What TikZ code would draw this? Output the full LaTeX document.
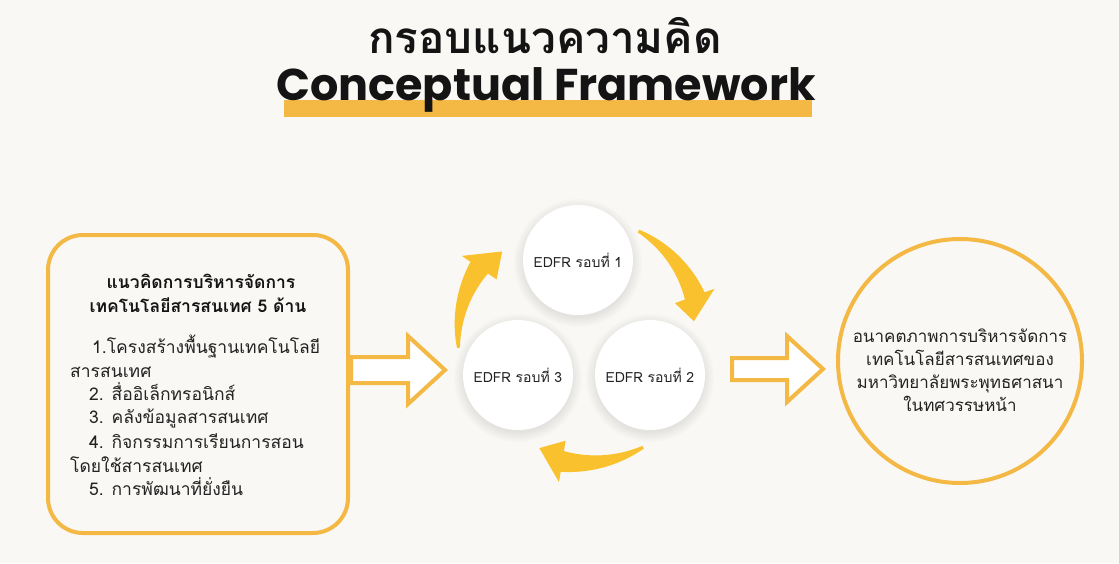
\documentclass[tikz,border=0pt]{standalone}
\usepackage{fontspec}
\setmainfont{Liberation Sans}
\newfontfamily\thaif[Script=Thai]{Loma}
\newfontfamily\popf{Poppins}
\definecolor{bg}{HTML}{F9F8F5}
\definecolor{ol}{HTML}{F4B844}
\definecolor{ay}{HTML}{FAC12E}
\definecolor{ink}{HTML}{141414}
\definecolor{txt}{HTML}{222222}
\newcommand\cyclearrow[4]{% #1=R #2=a0 #3=ah #4=a1
  \fill[ay] plot[domain=0:1, samples=30, variable=\t] ({#2+(#3-#2)*\t}:{#1+1.5+9*\t})
    -- ({#3}:{#1+21}) -- ({#4}:{#1-7}) -- ({#3}:{#1-21})
    -- plot[domain=0:1, samples=30, variable=\t] ({#3-(#3-#2)*\t}:{#1-10.5+9*\t}) -- cycle;}
\newcommand\softshadow[1]{%
  \foreach \rr in {55,56.5,...,64}{\fill[black, opacity=0.012] ([yshift=-3pt]#1) circle (\rr);}}
\tikzset{
  frame/.style={draw=ol, line width=4, fill=bg},
  hollowarrow/.style={draw=ol, line width=4, fill=white, line join=miter},
  roundnode/.style={circle, fill=white, minimum size=110, inner sep=0,
    font=\thaif\fontsize{14}{17}\selectfont, text=txt},
  body/.style={anchor=base west, inner sep=0, font=\thaif\fontsize{17.5}{20}\selectfont, text=txt},
  boxhead/.style={anchor=base, inner sep=0, font=\thaif\bfseries\fontsize{17.5}{20}\selectfont, text=ink},
  outtext/.style={anchor=base, inner sep=0, font=\thaif\fontsize{17}{20}\selectfont, text=txt}
}
\begin{document}
\begin{tikzpicture}[x=1pt, y=-1pt]
\fill[bg] (0,0) rectangle (1119,563);
\useasboundingbox (0,0) rectangle (1119,563);

% title
\fill[ol] (284,100) rectangle (812,117);
\node[anchor=base, inner sep=0, font=\thaif\bfseries\fontsize{44}{44}\selectfont, text=ink] (tth) at (545,53) {กรอบแนวความคิด};
\node[anchor=base, inner sep=0, font=\popf\bfseries\fontsize{44.5}{44.5}\selectfont, text=ink] (ten) at (546,100) {Conceptual Framework};

% left box
\node[frame, rounded corners=35, minimum width=300, minimum height=298] (lbox) at (198,384) {};
\node[boxhead] (h1) at (201,288) {แนวคิดการบริหารจัดการ};
\node[boxhead] (h2) at (198,312) {เทคโนโลยีสารสนเทศ 5 ด้าน};
\node[body] (l1) at (92,353) {1.โครงสร้างพื้นฐานเทคโนโลยี};
\node[body] (l1b) at (70,377) {สารสนเทศ};
\node[body] (l2) at (89,400) {2. สื่ออิเล็กทรอนิกส์};
\node[body] (l3) at (89,423) {3. คลังข้อมูลสารสนเทศ};
\node[body] (l4) at (89,448) {4. กิจกรรมการเรียนการสอน};
\node[body] (l4b) at (70,472) {โดยใช้สารสนเทศ};
\node[body] (l5) at (89,495) {5. การพัฒนาที่ยั่งยืน};

% right circle
\node[circle, draw=ol, line width=4, fill=bg, minimum size=244] (rc) at (960,361) {};
\node[outtext] (r1) at (960,342) {อนาคตภาพการบริหารจัดการ};
\node[outtext] (r2) at (960,365) {เทคโนโลยีสารสนเทศของ};
\node[outtext] (r3) at (960,388) {มหาวิทยาลัยพระพุทธศาสนา};
\node[outtext] (r4) at (960,411) {ในทศวรรษหน้า};

% EDFR circles
\coordinate (p1) at (578,260);
\coordinate (p2) at (650,375);
\coordinate (p3) at (518,375);
\softshadow{p1}\softshadow{p2}\softshadow{p3}
\node[roundnode] (c1) at (p1) {EDFR รอบที่ 1};
\node[roundnode] (c2) at (p2) {EDFR รอบที่ 2};
\node[roundnode] (c3) at (p3) {EDFR รอบที่ 3};

% hollow arrows
\coordinate (la) at (lbox.east |- 0,370);
\draw[hollowarrow] ([xshift=1]la) ++(0,-13) -- ++(57,0) -- ++(0,-21) -- ++(37,34) -- ++(-37,34) -- ++(0,-21) -- ++(-57,0) -- cycle;
\coordinate (ra) at (732,369);
\draw[hollowarrow] (ra) ++(0,-11) -- ++(55,0) -- ++(0,-22) -- ++(36,33) -- ++(-36,33) -- ++(0,-22) -- ++(-55,0) -- cycle;

% cycle arrows
\coordinate (cyc) at (582,337);
\begin{scope}[shift={(cyc)}]
  \cyclearrow{124}{175}{214}{227}
  \cyclearrow{120}{298}{340}{352}
  \cyclearrow{126}{61}{99}{111}
\end{scope}
\end{tikzpicture}
\end{document}
